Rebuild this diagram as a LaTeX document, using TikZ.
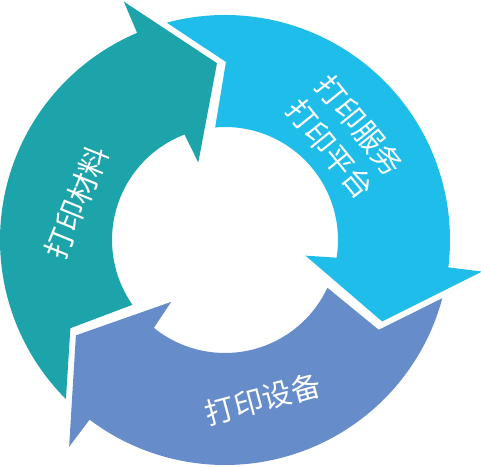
\documentclass[tikz,border=0pt]{standalone}
\usepackage{fontspec}
\newfontfamily\cjk{Noto Sans CJK SC}
\usetikzlibrary{calc}
\definecolor{matcol}{HTML}{1CA4AA}
\definecolor{svccol}{HTML}{1EBDEA}
\definecolor{devcol}{HTML}{668DC9}

\begin{document}
\begin{tikzpicture}[tagtext/.style={text=white, font=\cjk\fontsize{21}{27}\selectfont, align=center, inner sep=0pt}]
\useasboundingbox (-5.625,-5.675) rectangle (6.4,6.0);
% three arrow segments, same outline turned by 120 degrees
\foreach \rot/\col in {0/matcol, -120/svccol, 120/devcol}{
  \fill[\col, rotate=\rot]
    (225:5.625) arc[start angle=225, end angle=113, radius=5.625cm]
    -- (113:6.475) -- (92.6:4.425) -- (109:2.05) -- (111:2.825)
    arc[start angle=111, end angle=215, radius=2.825cm]
    -- (209.7:4.45) -- cycle;
}

% labels on the segments
\node[tagtext, rotate=68] (mattext) at (-3.71,0.94) {打印材料};
\node[tagtext, rotate=-51] (svctext) at (3.0,2.575) {打印服务\\打印平台};
\node[tagtext, rotate=15] (devtext) at (0.95,-3.975) {打印设备};
\end{tikzpicture}
\end{document}
